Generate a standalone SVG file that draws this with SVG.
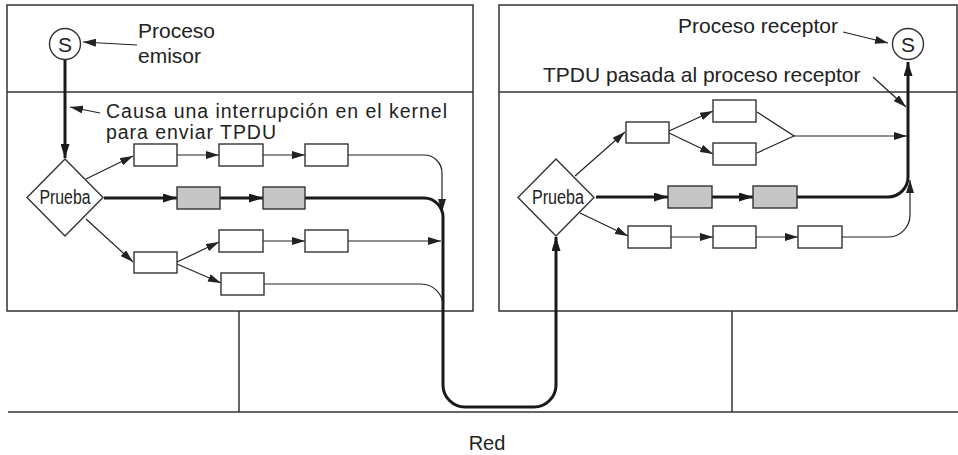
<svg xmlns="http://www.w3.org/2000/svg" width="958" height="455" viewBox="0 0 958 455">
<style>
.frame{fill:none;stroke:#333;stroke-width:1.5}
.box{fill:#fff;stroke:#333;stroke-width:1.4}
.shade{fill:#c6c6c6;stroke:#333;stroke-width:1.4}
.thin{fill:none;stroke:#222;stroke-width:1.2}
.thick{fill:none;stroke:#1a1a1a;stroke-width:3}
.t{font-family:"Liberation Sans",Arial,sans-serif;font-size:21px;fill:#222}
.s{font-family:"Liberation Sans",Arial,sans-serif;font-size:19.5px;fill:#222}
.c{font-family:"Liberation Sans",Arial,sans-serif;font-size:20px;fill:#222}
</style>
<defs>
<marker id="a" markerUnits="userSpaceOnUse" markerWidth="13" markerHeight="8" refX="13" refY="4" orient="auto"><path d="M0,0 L13,4 L0,8 z" fill="#222"/></marker>
<marker id="b" markerUnits="userSpaceOnUse" markerWidth="14" markerHeight="9" refX="14" refY="4.5" orient="auto"><path d="M0,0 L14,4.5 L0,9 z" fill="#1a1a1a"/></marker>
</defs>
<g id="frames">
<rect class="frame" x="7" y="5" width="466" height="306"/>
<line class="frame" x1="7" y1="92" x2="473" y2="92"/>
<rect class="frame" x="499" y="5" width="458" height="306"/>
<line class="frame" x1="499" y1="92" x2="957" y2="92"/>
<line class="frame" x1="239" y1="311" x2="239" y2="412"/>
<line class="frame" x1="732" y1="311" x2="732" y2="412"/>
<line class="frame" x1="8" y1="412" x2="958" y2="412"/>
</g>
<g id="connectors">
<line class="thin" x1="137" y1="45" x2="83" y2="42" marker-end="url(#a)"/>
<line class="thin" x1="100" y1="113" x2="70" y2="107" marker-end="url(#a)"/>
<line class="thick" x1="65" y1="60" x2="65" y2="158" marker-end="url(#b)"/>
<line class="thin" x1="86" y1="179" x2="133" y2="156" marker-end="url(#a)"/>
<line class="thin" x1="177" y1="155" x2="219" y2="155" marker-end="url(#a)"/>
<line class="thin" x1="263" y1="155" x2="305" y2="155" marker-end="url(#a)"/>
<path class="thin" d="M348,155 H424 A18,18 0 0 1 442,173 V212" marker-end="url(#a)"/>
<line class="thick" x1="104" y1="198" x2="177" y2="198" marker-end="url(#b)"/>
<line class="thick" x1="220" y1="198" x2="263" y2="198" marker-end="url(#b)"/>
<path class="thick" d="M305,198 H424 A19,19 0 0 1 443,217 V385 A22,22 0 0 0 465,407 H534 A22,22 0 0 0 556,385 V237" marker-end="url(#b)"/>
<line class="thin" x1="86" y1="219" x2="133" y2="262" marker-end="url(#a)"/>
<line class="thin" x1="177" y1="262" x2="219" y2="242" marker-end="url(#a)"/>
<line class="thin" x1="177" y1="264" x2="221" y2="283" marker-end="url(#a)"/>
<line class="thin" x1="263" y1="241" x2="305" y2="241" marker-end="url(#a)"/>
<line class="thin" x1="348" y1="241" x2="441" y2="241" marker-end="url(#a)"/>
<path class="thin" d="M264,284 H421 A22,22 0 0 1 443,306"/>
<line class="thin" x1="843" y1="32" x2="888" y2="43" marker-end="url(#a)"/>
<line class="thin" x1="873" y1="77" x2="906" y2="107" marker-end="url(#a)"/>
<line class="thin" x1="575" y1="176" x2="625" y2="132" marker-end="url(#a)"/>
<line class="thin" x1="669" y1="131" x2="713" y2="111" marker-end="url(#a)"/>
<line class="thin" x1="669" y1="133" x2="713" y2="154" marker-end="url(#a)"/>
<path class="thin" d="M757,112 L794,136 L757,153"/>
<line class="thin" x1="794" y1="136" x2="907" y2="136" marker-end="url(#a)"/>
<line class="thick" x1="596" y1="197" x2="668" y2="197" marker-end="url(#b)"/>
<line class="thick" x1="712" y1="197" x2="753" y2="197" marker-end="url(#b)"/>
<path class="thick" d="M797,197 H888 A20,20 0 0 0 908,177 V62" marker-end="url(#b)"/>
<line class="thin" x1="580" y1="213" x2="628" y2="236" marker-end="url(#a)"/>
<line class="thin" x1="671" y1="237" x2="713" y2="237" marker-end="url(#a)"/>
<line class="thin" x1="756" y1="237" x2="798" y2="237" marker-end="url(#a)"/>
<path class="thin" d="M842,237 H888 A22,22 0 0 0 910,215 V180" marker-end="url(#a)"/>
</g>
<g id="emisor">
<circle class="box" cx="65" cy="44" r="15.5"/>
<text class="t" x="65" y="51.5" text-anchor="middle">S</text>
</g>
<g id="receptor">
<circle class="box" cx="908" cy="44" r="15.5"/>
<text class="t" x="908" y="51.5" text-anchor="middle">S</text>
</g>
<g id="prueba1">
<polygon class="box" points="65,159 103,197.5 65,236 27,197.5"/>
<text class="c" x="65" y="204" text-anchor="middle" textLength="51" lengthAdjust="spacingAndGlyphs">Prueba</text>
</g>
<g id="prueba2">
<polygon class="box" points="556,159 594,197.5 556,236 518,197.5"/>
<text class="c" x="558" y="204" text-anchor="middle" textLength="52" lengthAdjust="spacingAndGlyphs">Prueba</text>
</g>
<g id="leftboxes">
<rect class="box" x="134" y="144" width="43" height="22"/>
<rect class="box" x="219" y="144" width="44" height="22"/>
<rect class="box" x="305" y="144" width="43" height="22"/>
<rect class="shade" x="177" y="187" width="43" height="22"/>
<rect class="shade" x="263" y="187" width="42" height="22"/>
<rect class="box" x="134" y="252" width="43" height="21"/>
<rect class="box" x="219" y="230" width="44" height="22"/>
<rect class="box" x="305" y="230" width="43" height="22"/>
<rect class="box" x="221" y="273" width="43" height="22"/>
</g>
<g id="rightboxes">
<rect class="box" x="626" y="122" width="43" height="21"/>
<rect class="box" x="713" y="100" width="43" height="22"/>
<rect class="box" x="713" y="143" width="43" height="22"/>
<rect class="shade" x="668" y="186" width="44" height="22"/>
<rect class="shade" x="753" y="186" width="44" height="22"/>
<rect class="box" x="628" y="226" width="43" height="22"/>
<rect class="box" x="713" y="226" width="43" height="22"/>
<rect class="box" x="798" y="226" width="44" height="22"/>
</g>
<g id="labels">
<text class="t" x="138" y="38">Proceso</text>
<text class="t" x="138" y="63">emisor</text>
<text class="s" x="106" y="118" textLength="341">Causa una interrupción en el kernel</text>
<text class="s" x="106" y="139" textLength="170">para enviar TPDU</text>
<text class="t" x="678" y="33">Proceso receptor</text>
<text class="t" x="543" y="82">TPDU pasada al proceso receptor</text>
<text class="c" x="487" y="450" text-anchor="middle">Red</text>
</g>
</svg>
